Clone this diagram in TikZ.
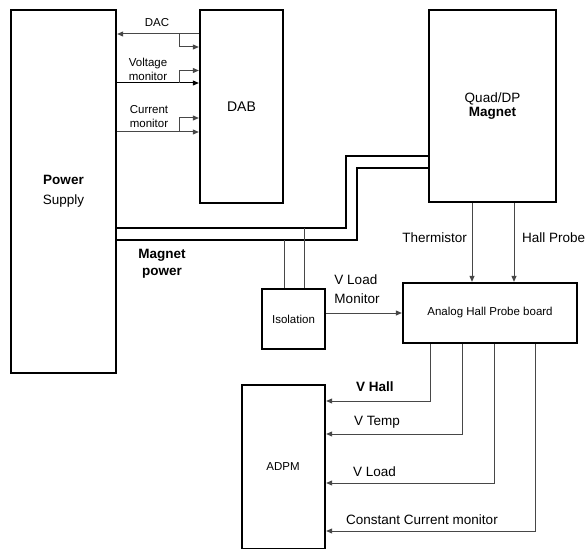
\documentclass[tikz,border=0pt]{standalone}
\usepackage{fontspec}
\setmainfont{Liberation Sans}
\usetikzlibrary{arrows.meta}
\begin{document}
\begin{tikzpicture}[x=1pt,y=-1pt,
  box/.style={draw=black,line width=2.3pt,rectangle,inner sep=0pt,align=center},
  cable/.style={draw=black,line width=2pt},
  sig/.style={draw=black!72,line width=1pt},
  arr/.style={sig,-{Triangle[length=6pt,width=5pt]}},
  small/.style={font=\fontsize{11.5}{12}\selectfont},
  lbl/.style={font=\fontsize{13.5}{16}\selectfont,inner sep=0pt},
  slbl/.style={font=\fontsize{11.5}{14}\selectfont,inner sep=0pt,align=center}]
\useasboundingbox (0,0) rectangle (585,548);
\begin{scope}
\clip (0,0) rectangle (585,548);
% boxes
\node[box,minimum width=105pt,minimum height=363pt,font=\fontsize{13.5}{20}\selectfont] (ps) at (63.5,191.5) {\textbf{Power}\\Supply};
\node[box,minimum width=83pt,minimum height=193pt,font=\fontsize{14}{16}\selectfont] (dab) at (241.5,106.5) {DAB};
\node[box,minimum width=127pt,minimum height=192pt,font=\fontsize{13.5}{14}\selectfont] (mag) at (492.5,106) {Quad/DP\\\textbf{Magnet}};
\node[box,minimum width=63pt,minimum height=60pt,small] (iso) at (293.5,319) {Isolation};
\node[box,minimum width=174pt,minimum height=60pt,small] (board) at (490,313) {Analog Hall Probe board};
\node[box,minimum width=83pt,minimum height=164pt,small] (adpm) at (283.5,467) {};
\node[small] at (283,467) {ADPM};
\end{scope}
% DAB signals
\coordinate (b1) at (179,34);
\coordinate (b2) at (179,83);
\coordinate (b3) at (179,132);
\draw[arr] (dab.west |- b1) -- (ps.east |- b1);
\draw[arr] (b1) |- (dab.west |- 0,47);
\draw[arr,draw=black] (ps.east |- b2) -- (dab.west |- b2);
\draw[arr] (b2) |- (dab.west |- 0,70.5);
\draw[arr] (ps.east |- b3) -- (dab.west |- b3);
\draw[arr] (b3) |- (dab.west |- 0,118);
\node[slbl] at (157,23) {DAC};
\node[slbl] at (148,69.5) {Voltage\\monitor};
\node[slbl] at (149,117) {Current\\monitor};
% magnet power cables
\draw[cable] (ps.east |- 0,228) -| (346,156) -- (mag.west |- 0,156);
\draw[cable] (ps.east |- 0,240) -| (357,168) -- (mag.west |- 0,168);
\node[lbl,align=center,font=\bfseries\fontsize{13.5}{17}\selectfont] at (162,263.5) {Magnet\\power};
% isolation taps
\draw[sig] (304,228) -- (iso.north -| 304,0);
\draw[sig] (284,240) -- (iso.north -| 284,0);
\draw[arr] (iso.east |- board.west) -- (board.west);
\node[lbl,align=left,font=\fontsize{13.5}{19}\selectfont] at (357,289.5) {V Load\\Monitor};
% magnet to board
\draw[arr] (mag.south -| 472,0) -- (board.north -| 472,0);
\draw[arr] (mag.south -| 514,0) -- (board.north -| 514,0);
\node[lbl,anchor=east] at (467,238) {Thermistor};
\node[lbl,anchor=west] at (522,238) {Hall Probe};
% board to ADPM
\draw[arr] (board.south -| 430,0) |- (adpm.east |- 0,401);
\draw[arr] (board.south -| 462,0) |- (adpm.east |- 0,434);
\draw[arr] (board.south -| 494,0) |- (adpm.east |- 0,483);
\draw[arr] (board.south -| 535,0) |- (adpm.east |- 0,531);
\node[lbl,anchor=west,font=\bfseries\fontsize{13.5}{16}\selectfont] at (356,387) {V Hall};
\node[lbl,anchor=west] at (354,422) {V Temp};
\node[lbl,anchor=west] at (353,472) {V Load};
\node[lbl,anchor=west] at (346,520) {Constant Current monitor};
\end{tikzpicture}
\end{document}
